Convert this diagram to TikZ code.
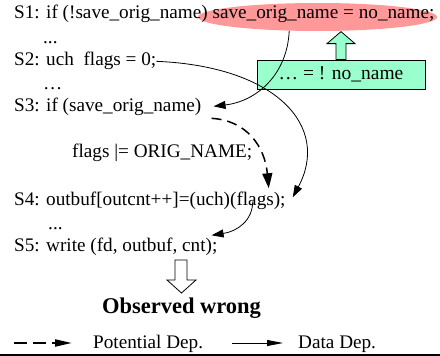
\documentclass[tikz,border=0pt]{standalone}
\usepackage{fontspec}
\setmainfont{Liberation Serif}
\usetikzlibrary{shapes.geometric,arrows.meta}

\definecolor{hotpink}{RGB}{255,153,153}
\definecolor{mintgreen}{RGB}{153,255,204}

\begin{document}
\begin{tikzpicture}
[every node/.style={inner sep=0pt},
 code/.style={anchor=base west, font=\fontsize{19.2}{23}\selectfont},
 hot/.style={ellipse, fill=hotpink, minimum width=239pt, minimum height=28pt},
 note/.style={rectangle, fill=mintgreen, draw=black, line width=0.8pt, minimum width=168pt, minimum height=29pt, font=\fontsize{19.5}{23}\selectfont},
 dep/.style={line width=0.8pt, -{Triangle[length=12pt,width=8pt]}},
 potdep/.style={line width=1.5pt, dash pattern=on 10pt off 6pt, -{Triangle[length=15pt,width=10pt]}},
 block/.style={draw=black, line width=0.8pt}]
\useasboundingbox (0pt,0pt) rectangle (440pt,-356pt);
\node (hot) [hot] at (317.5pt, -17pt) {};
\node (s1) [code] at (14pt, -19pt) {S1: if (!save\_orig\_name) save\_orig\_name = no\_name;};
\node (d1) [code] at (43pt, -43pt) {...};
\node (s2) [code] at (14pt, -66pt) {S2: uch~ flags = 0;};
\node (d2) [code] at (43pt, -89pt) {…};
\node (s3) [code] at (14pt, -111pt) {S3: if (save\_orig\_name)};
\node (set) [code] at (72pt, -157pt) {flags |= ORIG\_NAME;};
\node (s4) [code] at (14pt, -205pt) {S4: outbuf[outcnt++]=(uch)(flags);};
\node (d3) [code] at (48pt, -229pt) {...};
\node (s5) [code] at (14pt, -251pt) {S5: write (fd, outbuf, cnt);};
% condition that makes S1 wrong
\node (cond) [note] at (341pt, -74.5pt) {… = ! no\_name};
\draw [block, fill=mintgreen] ([xshift=-5pt]cond.north) -- ++(0pt,16pt) -- ++(-9pt,0pt) -- ++(14pt,12pt) -- ++(14pt,-12pt) -- ++(-9pt,0pt) -- ++(0pt,-16pt) -- cycle;
% dependences
\draw [dep] (hot.206) .. controls +(-2pt,-44pt) and +(43pt,5pt) .. ([xshift=12pt]s3.east);
\draw [dep] (s2.east) .. controls +(120pt,-5pt) and +(38pt,71pt) .. ([xshift=7pt,yshift=3pt]s4.east);
\draw [potdep] ([xshift=10pt,yshift=-3pt]s3.south east) .. controls +(35pt,-2pt) and +(-4pt,42pt) .. ([xshift=-17pt,yshift=3pt]s4.north east);
\draw [dep] ([xshift=-33pt,yshift=-1pt]s4.east) .. controls +(0pt,-19pt) and +(26pt,4pt) .. ([xshift=-6pt,yshift=2pt]s5.north east);
% result
\draw [block, fill=white] (175pt,-260pt) -- (187pt,-260pt) -- (187pt,-280pt) -- (196pt,-280pt) -- (181.5pt,-293pt) -- (167pt,-280pt) -- (175pt,-280pt) -- cycle;
\node (wrong) [anchor=base, font=\fontsize{22.5}{27}\selectfont\bfseries] at (181.5pt, -313pt) {Observed wrong};
% legend
\coordinate (pd1) at (14pt, -343pt);
\coordinate (pd2) at (72pt, -343pt);
\draw [line width=2pt, dash pattern=on 13pt off 6pt, -{Triangle[length=17pt,width=7pt]}] (pd1) -- (pd2);
\node (pdtext) [code] at (93pt, -348pt) {Potential Dep.};
\coordinate (dd1) at (232pt, -343pt);
\coordinate (dd2) at (283pt, -343pt);
\draw [line width=0.8pt, -{Triangle[length=16pt,width=6pt]}] (dd1) -- (dd2);
\node (ddtext) [code] at (298pt, -348pt) {Data Dep.};
\draw [line width=1.5pt] (0pt, -355pt) -- (440pt, -355pt);
\end{tikzpicture}
\end{document}
